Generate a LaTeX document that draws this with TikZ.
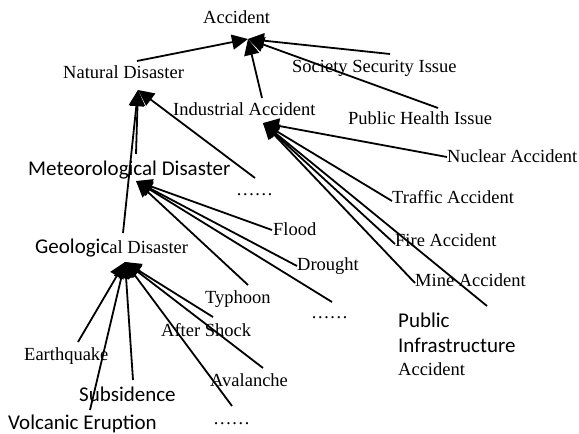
\documentclass[tikz,border=0pt]{standalone}
\usepackage{fontspec}
\setmainfont{Liberation Serif}
\newfontfamily\carlfont{Carlito}
\usetikzlibrary{arrows.meta}
\newcommand\tmsize{\fontsize{18.5}{21}\selectfont}
\newcommand\cbsize{\carlfont\fontsize{21}{24}\selectfont}
\begin{document}
\begin{tikzpicture}[x=1pt,y=-1pt,
  lbl/.style={inner sep=0pt, anchor=base west, font=\tmsize},
  lblc/.style={inner sep=0pt, anchor=base west, font=\cbsize},
  arr/.style={line width=1.8pt, -{Triangle[length=16pt,width=15pt]}}]
\useasboundingbox (0,0) rectangle (579,434);
% labels
\node[lbl] (acc) at (203,23) {Accident};
\node[lbl] (nat) at (63,78) {Natural Disaster};
\node[lbl] (ind) at (173,115) {Industrial Accident};
\node[lbl] (soc) at (292,72) {Society Security Issue};
\node[lbl] (phi) at (348,124) {Public Health Issue};
\node[lblc] (met) at (28,175) {Meteorological Disaster};
\node[lbl] (dotsA) at (236,195) {……};
\node[lbl] (geo) at (35,253) {{\cbsize Geologic}al Disaster};
\node[lbl] (nuc) at (447,162) {Nuclear Accident};
\node[lbl] (tra) at (392,203) {Traffic Accident};
\node[lbl] (flo) at (273,235) {Flood};
\node[lbl] (fir) at (395,246) {Fire Accident};
\node[lbl] (dro) at (297,270) {Drought};
\node[lbl] (min) at (415,286) {Mine Accident};
\node[lbl] (typ) at (205,303) {Typhoon};
\node[lbl] (dotsB) at (311,318) {……};
\node[lblc] (piaA) at (398,327) {Public};
\node[lblc] (piaB) at (398,352) {Infrastructure};
\node[lbl] (piaC) at (398,375) {Accident};
\node[lbl] (aft) at (161,336) {After Shock};
\node[lbl] (ear) at (24,360) {Earthquake};
\node[lbl] (ava) at (210,386) {Avalanche};
\node[lblc] (sub) at (79,401) {Subsidence};
\node[lblc] (vol) at (8,429) {Volcanic Eruption};
\node[lbl] (dotsC) at (213,424) {……};
% arrow tips (targets)
\coordinate (accIn) at (248,39);
\coordinate (natIn) at (138,90);
\coordinate (indIn) at (263,123);
\coordinate (metIn) at (136,181);
\coordinate (geoIn) at (125,262);
% line starts
\coordinate (natOut) at (137,61);
\coordinate (indOut) at (262,98);
\coordinate (socOut) at (390,54);
\coordinate (phiOut) at (438,108);
\coordinate (metOut) at (136,154);
\coordinate (geoOut) at (123,233);
\coordinate (dotsAOut) at (255,178);
\coordinate (nucOut) at (447,157);
\coordinate (traOut) at (392,201);
\coordinate (firOut) at (395,244);
\coordinate (minOut) at (415,283);
\coordinate (piaOut) at (487,306);
\coordinate (floOut) at (272,230);
\coordinate (droOut) at (297,266);
\coordinate (typOut) at (248,285);
\coordinate (dotsBOut) at (332,302);
\coordinate (earOut) at (78,342);
\coordinate (subOut) at (133,380);
\coordinate (volOut) at (90,410);
\coordinate (aftOut) at (213,317);
\coordinate (avaOut) at (263,368);
\coordinate (dotsCOut) at (232,406);
% connectors
\draw[arr] (natOut) -- (accIn);
\draw[arr] (indOut) -- (accIn);
\draw[arr] (socOut) -- (accIn);
\draw[arr] (phiOut) -- (accIn);
\draw[arr] (metOut) -- (natIn);
\draw[arr] (geoOut) -- (natIn);
\draw[arr] (dotsAOut) -- (natIn);
\draw[arr] (nucOut) -- (indIn);
\draw[arr] (traOut) -- (indIn);
\draw[arr] (firOut) -- (indIn);
\draw[arr] (minOut) -- (indIn);
\draw[arr] (piaOut) -- (indIn);
\draw[arr] (floOut) -- (metIn);
\draw[arr] (droOut) -- (metIn);
\draw[arr] (typOut) -- (metIn);
\draw[arr] (dotsBOut) -- (metIn);
\draw[arr] (earOut) -- (geoIn);
\draw[arr] (subOut) -- (geoIn);
\draw[arr] (volOut) -- (geoIn);
\draw[arr] (aftOut) -- (geoIn);
\draw[arr] (avaOut) -- (geoIn);
\draw[arr] (dotsCOut) -- (geoIn);
\end{tikzpicture}
\end{document}
